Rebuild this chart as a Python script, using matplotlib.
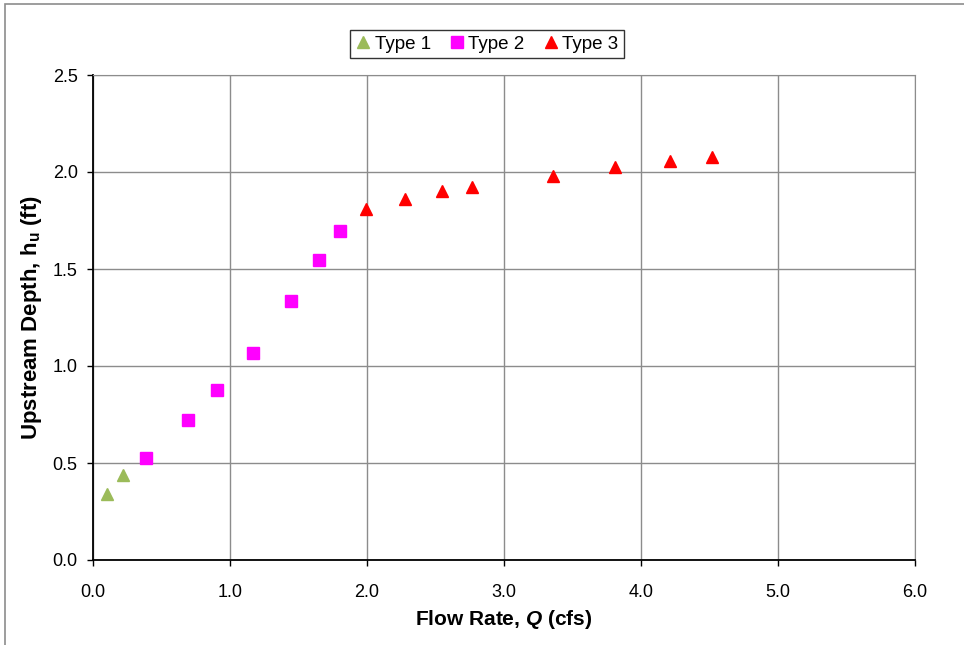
import numpy as np
import matplotlib.pyplot as plt
from matplotlib.patches import Rectangle

plt.rcParams['font.family'] = ['Liberation Sans', 'DejaVu Sans']
plt.rcParams['mathtext.fontset'] = 'custom'
plt.rcParams['mathtext.rm'] = 'Liberation Sans:bold'
plt.rcParams['mathtext.it'] = 'Liberation Sans:italic:bold'
plt.rcParams['mathtext.bf'] = 'Liberation Sans:bold'

# flow rate (cfs) and upstream depth (ft) by flow type
q_type1 = [0.10, 0.22]
h_type1 = [0.34, 0.44]
q_type2 = [0.39, 0.69, 0.905, 1.17, 1.445, 1.65, 1.80]
h_type2 = [0.525, 0.72, 0.875, 1.067, 1.335, 1.546, 1.696]
q_type3 = [1.99, 2.28, 2.55, 2.77, 3.36, 3.81, 4.21, 4.52]
h_type3 = [1.81, 1.86, 1.90, 1.925, 1.98, 2.025, 2.055, 2.075]

xticks = np.arange(0, 6.01, 1.0)
yticks = np.arange(0, 2.51, 0.5)

fig = plt.figure(figsize=(9.64, 6.45), dpi=100)
# chart area frame
fig.patches.append(Rectangle((5/964, -0.01), 1.2, 1 - 4/645 + 0.01, transform=fig.transFigure,
                             fill=False, edgecolor='#8c8c8c', linewidth=1.2))
ax = fig.add_axes([93/964, 1 - 560/645, 822/964, 485/645])

ax.plot(q_type1, h_type1, '^', color='#9bbb59', markersize=8.5, label='Type 1', linestyle='none')
ax.plot(q_type2, h_type2, 's', color='#ff00ff', markersize=8.5, label='Type 2', linestyle='none')
ax.plot(q_type3, h_type3, '^', color='#ff0000', markersize=8.5, label='Type 3', linestyle='none')

ax.set_xlim(0, 6)
ax.set_ylim(0, 2.5)
ax.set_xticks(xticks)
ax.set_yticks(yticks)
ax.set_xticklabels(['%.1f' % v for v in xticks])
ax.set_yticklabels(['%.1f' % v for v in yticks])
ax.tick_params(labelsize=13, direction='out', length=4, width=1, color='black')
ax.tick_params(axis='x', pad=13)
ax.tick_params(axis='y', pad=7)
ax.grid(True, color='#8c8c8c', linewidth=1)
ax.set_axisbelow(True)

for s in ['top', 'right']:
    ax.spines[s].set_color('#8c8c8c')
for s in ['left', 'bottom']:
    ax.spines[s].set_color('black')
    ax.spines[s].set_linewidth(1.3)

ax.set_xlabel(r'Flow Rate, $Q$ (cfs)', fontsize=15, fontweight='bold', labelpad=5)
ax.set_ylabel(r'Upstream Depth, h$\mathrm{_u}$ (ft)', fontsize=16, fontweight='bold', labelpad=6)

leg = ax.legend(loc='center', bbox_to_anchor=(487/964, 1 - 44/645), bbox_transform=fig.transFigure,
                ncol=3, fontsize=13.5, frameon=True, fancybox=False, handlelength=0.8,
                handletextpad=0.2, columnspacing=1.0, borderpad=0.3)
leg.get_frame().set_edgecolor('black')
leg.get_frame().set_linewidth(1)

plt.savefig('out.png', dpi=100)
